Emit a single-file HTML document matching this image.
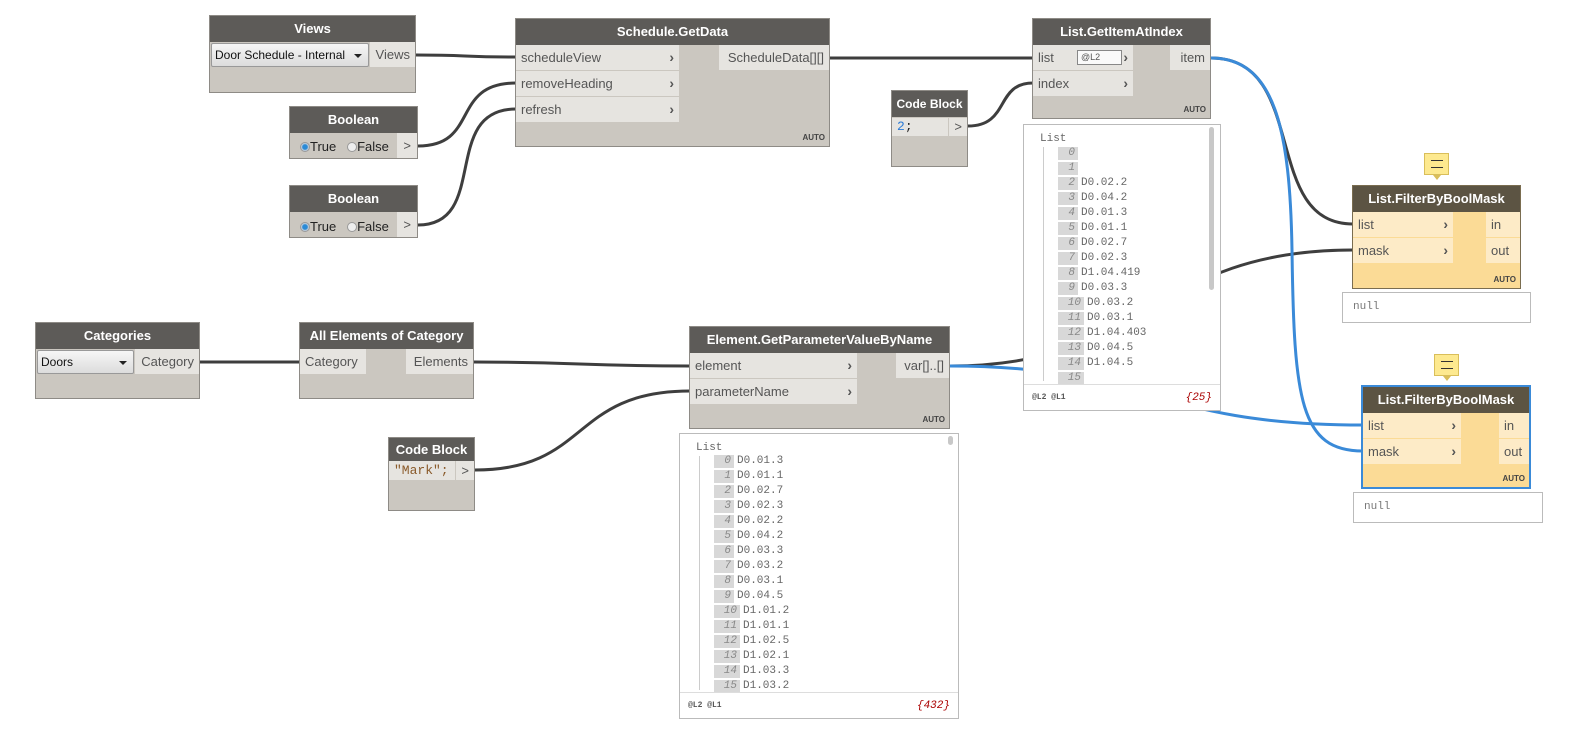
<!DOCTYPE html>
<html><head><meta charset="utf-8">
<style>
*{box-sizing:border-box;margin:0;padding:0}
body{width:1578px;height:736px;background:#fff;position:relative;overflow:hidden;font-family:"Liberation Sans",sans-serif;font-size:13px;color:#444}
.n{position:absolute;background:#cbc7c0;border:1px solid #8e8b86}
.h{position:absolute;left:0;right:0;top:0;height:26px;background:#5d5b58;color:#fff;font-weight:bold;text-align:center;line-height:26px;font-size:13px;white-space:nowrap;overflow:hidden}
.p{position:absolute;background:#e6e4e0;height:25px;line-height:25px;padding-left:5px;color:#555;font-size:13px}
.o{position:absolute;background:#e6e4e0;height:25px;line-height:25px;text-align:right;padding-right:5px;color:#555;white-space:nowrap}
.ch{position:absolute;right:5px;top:0;font-weight:bold;color:#555;font-size:14px}
.auto{position:absolute;right:4px;bottom:4px;font-size:8px;font-weight:bold;color:#444}
.y{background:#fbdb96}
.y .h{background:#5c5443}
.y .p,.y .o{background:#fdebc7}
.pv{position:absolute;background:#fff;border:1px solid #bbb;font-family:"Liberation Mono",monospace;font-size:11px;color:#666}
.pv .r{position:absolute;height:13px;line-height:13px}
.pv .i{display:inline-block;background:#d8d8d8;color:#888;font-style:italic;text-align:right;padding-right:3px;margin-right:3px}
.ft{position:absolute;left:0;right:0;bottom:0;height:26px;border-top:1px solid #ddd;font-size:8px;font-weight:bold;color:#555;line-height:26px;padding-left:8px}
.cnt{position:absolute;right:8px;font-style:italic;font-size:11px;color:#a00;font-weight:normal}
.dd{position:absolute;background:linear-gradient(#f6f6f6,#dcdcdc);border:1px solid #999;border-radius:2px;color:#111;height:24px;line-height:22px;padding-left:3px;font-size:12px;white-space:nowrap}
.dd:after{content:"";position:absolute;right:6px;top:10px;border:4px solid transparent;border-top:4px solid #222}
.rad{display:inline-block;width:10px;height:10px;border-radius:50%;border:1px solid #999;background:#eee;vertical-align:-1px}
.rad.on{background:radial-gradient(#2a8ad6 40%,#bcd 60%)}
.note{position:absolute;width:25px;height:22px;background:#fde98f;border:1px solid #d9be5a}
.note:before{content:"";position:absolute;left:6px;top:6px;width:12px;height:6px;border-top:1.5px solid #333;border-bottom:1.5px solid #333}
.note:after{content:"";position:absolute;left:8px;top:21px;border:4px solid transparent;border-top:5px solid #d9be5a}
.nl{position:absolute;background:#fff;border:1px solid #bbb;font-family:"Liberation Mono",monospace;font-size:11px;color:#777;padding:8px 10px}
</style></head><body>
<svg width="1578" height="736" style="position:absolute;left:0;top:0" fill="none" stroke-width="3">
<g stroke="#3e3e3e">
<path d="M416,55 C470,55 460,57 516,57"/>
<path d="M418,146 C480,146 450,83 516,83"/>
<path d="M418,225 C490,225 440,109 516,109"/>
<path d="M830,58 L1033,58"/>
<path d="M968,126 C1010,126 995,83 1033,83"/>
<path d="M200,362 L300,362"/>
<path d="M474,362 C580,362 580,366 690,366"/>
<path d="M475,470 C590,470 570,391 690,391"/>
<path d="M950,366 C1150,366 1150,250 1353,250"/>
<path d="M1211,58 C1310,58 1260,224 1353,224"/>
</g>
<g stroke="#3a8ad8">
<path d="M950,366 C1150,366 1150,425 1363,425"/>
<path d="M1211,58 C1275,58 1290,130 1292,250 C1294,400 1300,451 1363,451"/>
</g>
</svg>

<!-- Views -->
<div class="n" style="left:209px;top:15px;width:207px;height:78px"><div class="h">Views</div>
<div class="dd" style="left:1px;top:27px;width:158px">Door Schedule - Internal</div>
<div class="o" style="left:160px;top:26px;width:45px">Views</div></div>

<!-- Schedule.GetData -->
<div class="n" style="left:515px;top:18px;width:315px;height:129px"><div class="h">Schedule.GetData</div>
<div class="p" style="left:0;top:26px;width:163px">scheduleView<span class="ch">›</span></div>
<div class="p" style="left:0;top:52px;width:163px">removeHeading<span class="ch">›</span></div>
<div class="p" style="left:0;top:78px;width:163px">refresh<span class="ch">›</span></div>
<div class="o" style="left:203px;top:26px;width:110px">ScheduleData[][]</div>
<div class="auto">AUTO</div></div>

<!-- Booleans -->
<div class="n" style="left:289px;top:106px;width:129px;height:53px"><div class="h">Boolean</div>
<div style="position:absolute;left:10px;top:32px;color:#222"><span class="rad on"></span>True &nbsp;&nbsp;<span class="rad"></span>False</div>
<div class="o" style="left:107px;top:26px;width:20px;height:25px;padding-right:6px">&gt;</div></div>
<div class="n" style="left:289px;top:185px;width:129px;height:53px"><div class="h">Boolean</div>
<div style="position:absolute;left:10px;top:33px;color:#222"><span class="rad on"></span>True &nbsp;&nbsp;<span class="rad"></span>False</div>
<div class="o" style="left:107px;top:26px;width:20px;height:25px;padding-right:6px">&gt;</div></div>

<!-- GetItemAtIndex -->
<div class="n" style="left:1032px;top:18px;width:179px;height:101px"><div class="h">List.GetItemAtIndex</div>
<div class="p" style="left:0;top:26px;width:100px">list<span style="position:absolute;left:44px;top:5px;width:45px;height:15px;border:1px solid #888;background:#fafafa;font-size:9px;line-height:13px;padding-left:3px">@L2</span><span class="ch">›</span></div>
<div class="p" style="left:0;top:52px;width:100px">index<span class="ch">›</span></div>
<div class="o" style="left:137px;top:26px;width:40px">item</div>
<div class="auto">AUTO</div></div>

<!-- Code Block 2 -->
<div class="n" style="left:891px;top:90px;width:77px;height:77px"><div class="h" style="font-size:12px">Code Block</div>
<div class="p" style="left:0;top:27px;width:56px;height:18px;line-height:18px;font-family:'Liberation Mono',monospace;color:#222"><span style="color:#2a7ad6">2</span>;</div>
<div class="o" style="left:57px;top:27px;width:18px;height:18px;line-height:18px">&gt;</div></div>

<!-- preview 1 -->
<div class="pv" style="left:1023px;top:124px;width:198px;height:287px">
<div style="position:absolute;left:16px;top:8px">List</div>
<div style="position:absolute;left:19px;top:22px;width:1px;height:234px;background:#ccc"></div>
<div style="position:absolute;right:6px;top:2px;width:5px;height:163px;background:#c8c8c8;border-radius:3px"></div>
<div class="r" style="left:34px;top:22px"><span class="i" style="width:20px">0</span></div>
<div class="r" style="left:34px;top:37px"><span class="i" style="width:20px">1</span></div>
<div class="r" style="left:34px;top:52px"><span class="i" style="width:20px">2</span>D0.02.2</div>
<div class="r" style="left:34px;top:67px"><span class="i" style="width:20px">3</span>D0.04.2</div>
<div class="r" style="left:34px;top:82px"><span class="i" style="width:20px">4</span>D0.01.3</div>
<div class="r" style="left:34px;top:97px"><span class="i" style="width:20px">5</span>D0.01.1</div>
<div class="r" style="left:34px;top:112px"><span class="i" style="width:20px">6</span>D0.02.7</div>
<div class="r" style="left:34px;top:127px"><span class="i" style="width:20px">7</span>D0.02.3</div>
<div class="r" style="left:34px;top:142px"><span class="i" style="width:20px">8</span>D1.04.419</div>
<div class="r" style="left:34px;top:157px"><span class="i" style="width:20px">9</span>D0.03.3</div>
<div class="r" style="left:34px;top:172px"><span class="i" style="width:26px">10</span>D0.03.2</div>
<div class="r" style="left:34px;top:187px"><span class="i" style="width:26px">11</span>D0.03.1</div>
<div class="r" style="left:34px;top:202px"><span class="i" style="width:26px">12</span>D1.04.403</div>
<div class="r" style="left:34px;top:217px"><span class="i" style="width:26px">13</span>D0.04.5</div>
<div class="r" style="left:34px;top:232px"><span class="i" style="width:26px">14</span>D1.04.5</div>
<div class="r" style="left:34px;top:247px"><span class="i" style="width:26px">15</span></div>
<div class="ft">@L2 @L1<span class="cnt">{25}</span></div></div>

<!-- FBM 1 -->
<div class="note" style="left:1424px;top:153px"></div>
<div class="n y" style="left:1352px;top:185px;width:169px;height:104px;border-color:#7a6d50"><div class="h">List.FilterByBoolMask</div>
<div class="p" style="left:0;top:26px;width:100px">list<span class="ch">›</span></div>
<div class="p" style="left:0;top:52px;width:100px">mask<span class="ch">›</span></div>
<div class="o" style="left:133px;top:26px;width:34px;text-align:left;padding-left:5px">in</div>
<div class="o" style="left:133px;top:52px;width:34px;text-align:left;padding-left:5px">out</div>
<div class="auto">AUTO</div></div>
<div class="nl" style="left:1342px;top:292px;width:189px;height:31px">null</div>

<!-- FBM 2 -->
<div class="note" style="left:1434px;top:354px"></div>
<div class="n y" style="left:1361px;top:385px;width:170px;height:104px;border:2px solid #3a8ad8"><div class="h">List.FilterByBoolMask</div>
<div class="p" style="left:0;top:26px;width:98px">list<span class="ch">›</span></div>
<div class="p" style="left:0;top:52px;width:98px">mask<span class="ch">›</span></div>
<div class="o" style="left:136px;top:26px;width:30px;text-align:left;padding-left:5px">in</div>
<div class="o" style="left:136px;top:52px;width:30px;text-align:left;padding-left:5px">out</div>
<div class="auto">AUTO</div></div>
<div class="nl" style="left:1353px;top:492px;width:190px;height:31px">null</div>

<!-- Categories -->
<div class="n" style="left:35px;top:322px;width:165px;height:77px"><div class="h">Categories</div>
<div class="dd" style="left:1px;top:27px;width:97px">Doors</div>
<div class="o" style="left:99px;top:26px;width:64px">Category</div></div>

<!-- All Elements -->
<div class="n" style="left:299px;top:322px;width:175px;height:77px"><div class="h">All Elements of Category</div>
<div class="p" style="left:0;top:26px;width:66px">Category</div>
<div class="o" style="left:106px;top:26px;width:67px">Elements</div></div>

<!-- Code Block Mark -->
<div class="n" style="left:388px;top:437px;width:87px;height:74px"><div class="h" style="height:23px;line-height:23px">Code Block</div>
<div class="p" style="left:0;top:23px;width:66px;height:19px;line-height:19px;font-family:'Liberation Mono',monospace;color:#8a5a2a">"Mark";</div>
<div class="o" style="left:67px;top:23px;width:18px;height:19px;line-height:19px">&gt;</div></div>

<!-- GetParameterValueByName -->
<div class="n" style="left:689px;top:326px;width:261px;height:103px"><div class="h">Element.GetParameterValueByName</div>
<div class="p" style="left:0;top:26px;width:167px">element<span class="ch">›</span></div>
<div class="p" style="left:0;top:52px;width:167px">parameterName<span class="ch">›</span></div>
<div class="o" style="left:206px;top:26px;width:53px">var[]..[]</div>
<div class="auto">AUTO</div></div>

<!-- preview 2 -->
<div class="pv" style="left:679px;top:433px;width:280px;height:286px">
<div style="position:absolute;left:16px;top:8px">List</div>
<div style="position:absolute;left:19px;top:22px;width:1px;height:234px;background:#ccc"></div>
<div style="position:absolute;right:5px;top:2px;width:5px;height:9px;background:#c8c8c8;border-radius:3px"></div>
<div class="r" style="left:34px;top:21px"><span class="i" style="width:20px">0</span>D0.01.3</div>
<div class="r" style="left:34px;top:36px"><span class="i" style="width:20px">1</span>D0.01.1</div>
<div class="r" style="left:34px;top:51px"><span class="i" style="width:20px">2</span>D0.02.7</div>
<div class="r" style="left:34px;top:66px"><span class="i" style="width:20px">3</span>D0.02.3</div>
<div class="r" style="left:34px;top:81px"><span class="i" style="width:20px">4</span>D0.02.2</div>
<div class="r" style="left:34px;top:96px"><span class="i" style="width:20px">5</span>D0.04.2</div>
<div class="r" style="left:34px;top:111px"><span class="i" style="width:20px">6</span>D0.03.3</div>
<div class="r" style="left:34px;top:126px"><span class="i" style="width:20px">7</span>D0.03.2</div>
<div class="r" style="left:34px;top:141px"><span class="i" style="width:20px">8</span>D0.03.1</div>
<div class="r" style="left:34px;top:156px"><span class="i" style="width:20px">9</span>D0.04.5</div>
<div class="r" style="left:34px;top:171px"><span class="i" style="width:26px">10</span>D1.01.2</div>
<div class="r" style="left:34px;top:186px"><span class="i" style="width:26px">11</span>D1.01.1</div>
<div class="r" style="left:34px;top:201px"><span class="i" style="width:26px">12</span>D1.02.5</div>
<div class="r" style="left:34px;top:216px"><span class="i" style="width:26px">13</span>D1.02.1</div>
<div class="r" style="left:34px;top:231px"><span class="i" style="width:26px">14</span>D1.03.3</div>
<div class="r" style="left:34px;top:246px"><span class="i" style="width:26px">15</span>D1.03.2</div>
<div class="ft">@L2 @L1<span class="cnt">{432}</span></div></div>
</body></html>
